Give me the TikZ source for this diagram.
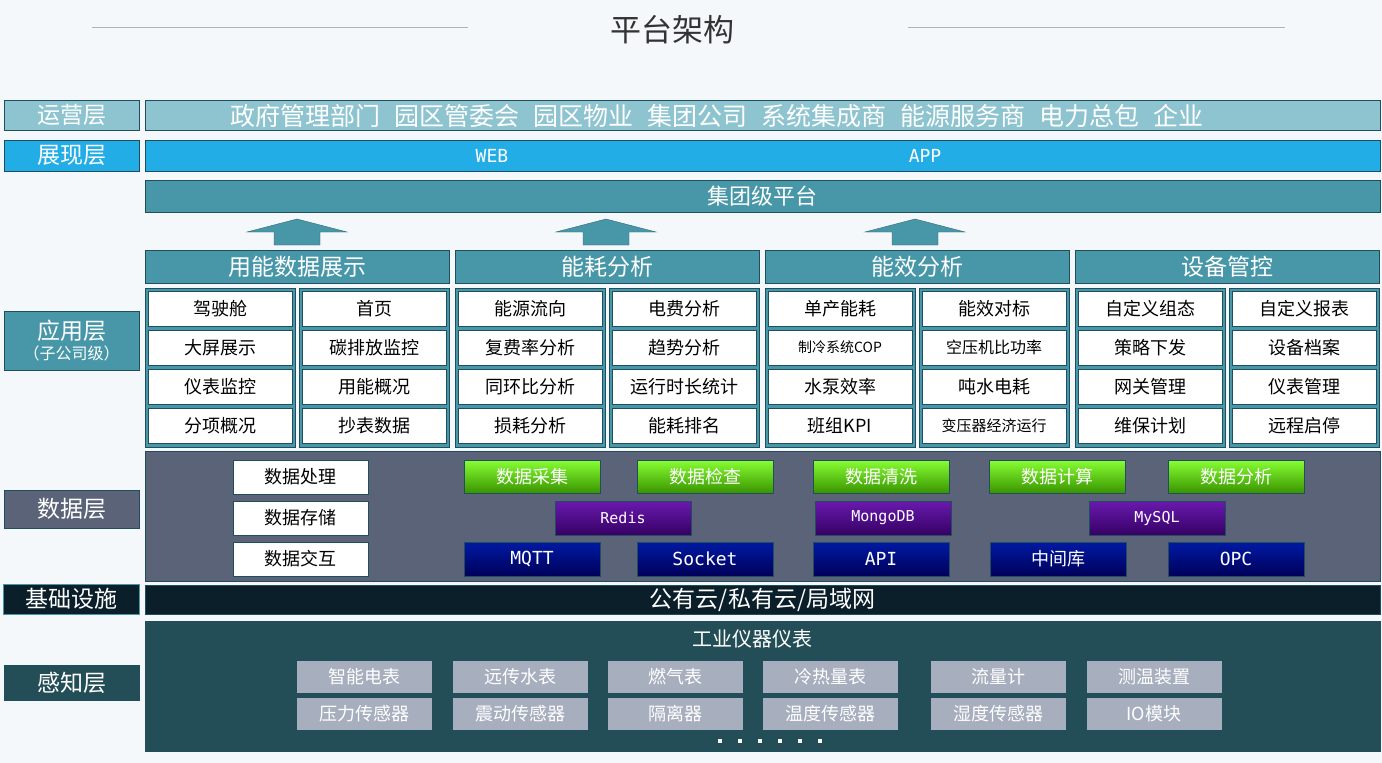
\documentclass[tikz,border=0pt]{standalone}
\usepackage{fontspec}
\setmainfont{Noto Sans CJK SC}
\newfontfamily\monofont{DejaVu Sans Mono}
\usetikzlibrary{positioning}
\definecolor{tealbar}{HTML}{4897A8}
\definecolor{lightteal}{HTML}{8DC4D0}
\definecolor{brightblue}{HTML}{22ADE6}
\definecolor{slate}{HTML}{5B6378}
\definecolor{nightbar}{HTML}{0B1F2A}
\definecolor{sensebg}{HTML}{244E57}
\definecolor{sensebox}{HTML}{A7AEBE}
\definecolor{edgeline}{HTML}{1F4F5E}
\definecolor{pagebg}{HTML}{F5F8FA}
% block from corner (x1,y1) to corner (x2,y2), named
\newcommand\blk[7]{\path (#3,#4) rectangle (#5,#6);
  \node[#2, minimum width=#5-#3, minimum height=#6-#4] (#1) at ({(#3+#5)/2},{(#4+#6)/2}) {#7};}
\begin{document}
\begin{tikzpicture}[x=1pt, y=-1pt,
    every node/.style={inner sep=0pt, outer sep=0pt},
    bar/.style={draw=edgeline, line width=0.8pt, fill=tealbar, text=white, font=\fontsize{22}{23}\selectfont},
    label/.style={bar, font=\fontsize{23}{24}\selectfont},
    cell/.style={draw=edgeline, line width=0.8pt, fill=white, text=black, font=\fontsize{18}{19}\selectfont},
    greenbox/.style={draw=edgeline, top color=green!45!lime!80!white, bottom color=green!40!black!70!lime, text=white, font=\fontsize{18}{19}\selectfont},
    purplebox/.style={draw=edgeline, top color=violet!70!blue!90!white, bottom color=violet!70!blue!60!black, text=white, font=\monofont\fontsize{15}{16}\selectfont},
    navybox/.style={draw=edgeline, top color=blue!60!black!90!cyan, bottom color=blue!35!black, text=white, font=\fontsize{18}{19}\selectfont},
    sensor/.style={draw=edgeline, fill=sensebox, text=white, font=\fontsize{18}{19}\selectfont},
    uparrow/.style={draw=tealbar!70!black, fill=tealbar}]
\fill[pagebg] (0,0) rectangle (1382,763);
\useasboundingbox (0,0) rectangle (1382,763);
% title
\node[font=\fontsize{31}{33}\selectfont, text=black!80] (title) at (672,30) {平台架构};
\coordinate (tl1) at (92,27); \coordinate (tl2) at (468,27);
\coordinate (tr1) at (908,27); \coordinate (tr2) at (1285,27);
\draw[gray!60] (tl1) -- (tl2); \draw[gray!60] (tr1) -- (tr2);
% layer labels
\blk{lyop}{label, fill=lightteal}{4}{100}{139}{130}{运营层}
\blk{lyshow}{label, fill=brightblue}{4}{140}{139}{171}{展现层}
\blk{lyapp}{label, align=center}{4}{311}{139}{370}{应用层\\[-4pt]{\fontsize{16}{17}\selectfont （子公司级）}}
\blk{lydata}{label, fill=slate}{4}{490}{139}{528}{数据层}
\blk{lybase}{label, fill=nightbar, draw=tealbar}{3}{584}{139}{614}{基础设施}
\blk{lysense}{label, fill=sensebg}{4}{665}{139}{700}{感知层}
% top bars
\blk{ops}{bar, fill=lightteal}{145}{100}{1380}{130}{}
\node[text=white, font=\fontsize{25}{26}\selectfont] (users) at (717,116) {政府管理部门\hspace{14pt}园区管委会\hspace{14pt}园区物业\hspace{14pt}集团公司\hspace{14pt}系统集成商\hspace{14pt}能源服务商\hspace{14pt}电力总包\hspace{14pt}企业};
\blk{show}{bar, fill=brightblue}{145}{140}{1380}{171}{}
\node[text=white, font=\monofont\fontsize{18}{19}\selectfont] (web) at (492,156) {WEB};
\node[text=white, font=\monofont\fontsize{18}{19}\selectfont] (app) at (925,156) {APP};
\blk{group}{bar}{145}{180}{1380}{212}{集团级平台}
\foreach \ax in {297,606,915}
  \draw[uparrow] (\ax-23,245) -- (\ax-23,232) -- (\ax-50,232) -- (\ax,219) -- (\ax+50,232)
    -- (\ax+23,232) -- (\ax+23,245) -- cycle;
% application modules
\foreach \cx/\head [count=\i] in {145/用能数据展示,455/能耗分析,765/能效分析,1075/设备管控}{
  \blk{head\i}{bar, font=\fontsize{23}{24}\selectfont}{\cx}{250}{\cx+304}{283}{\head}
  \draw[edgeline, fill=tealbar] (\cx,288) rectangle (\cx+150,447);
  \draw[edgeline, fill=tealbar] (\cx+154,288) rectangle (\cx+304,447);
}
\foreach \cx/\cells [count=\i] in {
  148/{驾驶舱,大屏展示,仪表监控,分项概况},
  302/{首页,碳排放监控,用能概况,抄表数据},
  458/{能源流向,复费率分析,同环比分析,损耗分析},
  612/{电费分析,趋势分析,运行时长统计,能耗排名},
  768/{单产能耗,{\fontsize{14}{15}\selectfont 制冷系统COP},水泵效率,班组KPI},
  922/{能效对标,{\fontsize{16}{17}\selectfont 空压机比功率},吨水电耗,{\fontsize{15}{16}\selectfont 变压器经济运行}},
  1078/{自定义组态,策略下发,网关管理,维保计划},
  1232/{自定义报表,设备档案,仪表管理,远程启停}}{
  \foreach \t [count=\j] in \cells {
    \pgfmathsetmacro\ya{291+39*(\j-1)}
    \blk{app\i-\j}{cell}{\cx}{\ya}{\cx+144}{\ya+35}{\t}
  }
}
% data layer
\draw[edgeline, fill=slate] (145,451) rectangle (1380,581);
\foreach \t [count=\j] in {数据处理,数据存储,数据交互}{
  \pgfmathsetmacro\ya{460+41*(\j-1)}
  \blk{proc\j}{cell}{233}{\ya}{368}{\ya+34}{\t}
}
\foreach \x/\t [count=\j] in {464/数据采集,637/数据检查,813/数据清洗,989/数据计算,1168/数据分析}
  \blk{step\j}{greenbox}{\x}{460}{\x+136}{493}{\t}
\foreach \x/\t [count=\j] in {555/Redis,815/MongoDB,1089/MySQL}
  \blk{db\j}{purplebox}{\x}{501}{\x+136}{535}{\t}
\foreach \x/\t [count=\j] in {464/{\monofont MQTT},637/{\monofont Socket},813/{\monofont API},990/中间库,1168/{\monofont OPC}}
  \blk{link\j}{navybox}{\x}{542}{\x+136}{576}{\t}
% infrastructure
\blk{cloud}{bar, fill=nightbar, font=\fontsize{23}{24}\selectfont}{145}{585}{1380}{614}{公有云/私有云/局域网}
% sensing layer
\draw[edgeline, fill=sensebg] (145,621) rectangle (1380,751);
\node[text=white, font=\fontsize{20}{21}\selectfont] (meters) at (752,639) {工业仪器仪表};
\foreach \x/\ta/\tb [count=\j] in {296/智能电表/压力传感器,452/远传水表/震动传感器,607/燃气表/隔离器,
    762/冷热量表/温度传感器,930/流量计/湿度传感器,1086/测温装置/IO模块}{
  \blk{senA\j}{sensor}{\x}{660}{\x+136}{693}{\ta}
  \blk{senB\j}{sensor}{\x}{697}{\x+136}{730}{\tb}
}
\foreach \k in {0,...,5}
  \fill[white] (718+\k*20,739) rectangle ++(4,4);
\end{tikzpicture}
\end{document}
